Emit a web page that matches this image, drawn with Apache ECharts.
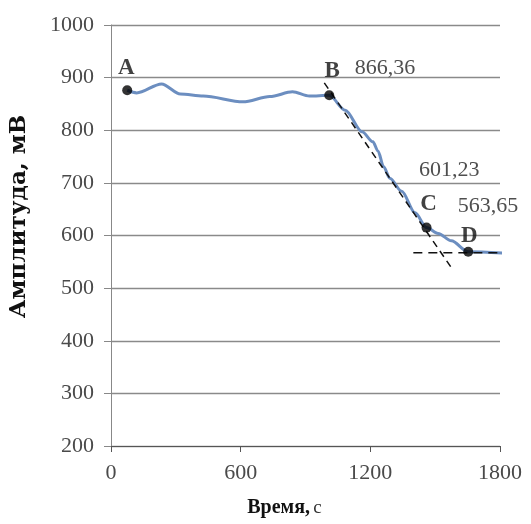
<!DOCTYPE html>
<html>
<head>
<meta charset="utf-8">
<script src="https://cdn.jsdelivr.net/npm/echarts@6/dist/echarts.min.js"></script>
<style>html,body{margin:0;padding:0;background:#fff}#c{width:531px;height:524px}</style>
</head>
<body>
<div id="c"></div>
<script>
// Curve samples
var timeS = [75, 119, 234, 321, 427, 611, 735, 840, 918, 1010, 1084, 1162, 1212, 1236, 1261, 1290, 1345, 1407, 1460, 1514, 1575, 1653, 1835];
var amp   = [876, 871, 888, 869, 865, 854, 864, 873, 865, 866.36, 838, 797, 778, 760, 731, 709, 684, 643, 615, 604, 590, 569, 566];
// Marked points
var pointNames = ['A', 'B', 'C', 'D'];
var pointTime  = [75, 1010, 1460, 1653];
var pointAmp   = [876, 866.36, 615, 569];
var pointValueText = ['', '866,36', '601,23', '563,65'];
// Tangent construction lines
var tangentT = [987, 1583];
var tangentA = [890, 534];
var levelT   = [1399, 1870];
var levelA   = [567, 567];
// Axes
var xMin = 0, xMax = 1800, xStep = 600;
var yMin = 200, yMax = 1000, yStep = 100;

function pairs(a, b) { return a.map(function (v, i) { return [v, b[i]]; }); }

var letterOffsets = [[-1, -22], [3, -24], [2, -24], [1, -16]];
var valueOffsets  = [[0, 0], [20, -27], [-13, -57], [-16, -46]];

var chart = echarts.init(document.getElementById('c'), null, { renderer: 'canvas' });
var serif = '"Liberation Serif", "Times New Roman", serif';
chart.setOption({
  animation: false,
  backgroundColor: '#fff',
  grid: { left: 107, right: 31, top: 25, bottom: 78 },
  xAxis: {
    type: 'value', min: xMin, max: xMax, interval: xStep,
    name: '{b|Время,} {r|с}',
    nameLocation: 'middle', nameGap: 52,
    nameTextStyle: {
      padding: [0, 42, 0, 0],
      rich: {
        b: { fontFamily: serif, fontWeight: 'bold', fontSize: 20, color: '#111' },
        r: { fontFamily: serif, fontSize: 19, color: '#333' }
      }
    },
    axisLine: { lineStyle: { color: '#555', width: 1.2 } },
    axisTick: { show: true, inside: false, length: 6, lineStyle: { color: '#555' } },
    axisLabel: { fontFamily: serif, fontSize: 22, color: '#4a4a4a', margin: 16, formatter: function (v) { return String(v); } },
    splitLine: { show: false }
  },
  yAxis: {
    type: 'value', min: yMin, max: yMax, interval: yStep,
    name: 'Амплитуда, мВ',
    nameLocation: 'middle', nameGap: 80, nameRotate: 90,
    nameTextStyle: { fontFamily: '"DejaVu Serif", serif', fontWeight: 'bold', fontSize: 23, color: '#111', padding: [0, 0, 0, 38] },
    axisLine: { show: true, lineStyle: { color: '#888', width: 1 } },
    axisTick: { show: true, length: 7, lineStyle: { color: '#888' } },
    axisLabel: { fontFamily: serif, fontSize: 22, color: '#4a4a4a', margin: 17, formatter: function (v) { return String(v); } },
    splitLine: { show: true, lineStyle: { color: '#8a8a8a', width: 1.3 } }
  },
  series: [
    {
      type: 'line', data: pairs(timeS, amp), smooth: 0.3, smoothMonotone: 'x', showSymbol: false, clip: false,
      lineStyle: { color: '#6c8ec0', width: 3 }, z: 3
    },
    {
      type: 'line', data: pairs(tangentT, tangentA), showSymbol: false, clip: false,
      lineStyle: { color: '#111', width: 1.5, type: [7, 5] }, z: 4
    },
    {
      type: 'line', data: pairs(levelT, levelA), showSymbol: false, clip: false,
      lineStyle: { color: '#111', width: 1.5, type: [9, 6] }, z: 4
    },
    {
      type: 'scatter', symbol: 'circle', symbolSize: 10, clip: false,
      itemStyle: { color: '#000' }, z: 5,
      data: pointNames.map(function (n, i) {
        return {
          value: [pointTime[i], pointAmp[i]],
          label: {
            show: true, formatter: n, position: 'inside', offset: letterOffsets[i],
            fontFamily: serif, fontWeight: 'bold', fontSize: 23, color: '#111'
          }
        };
      })
    },
    {
      type: 'scatter', symbolSize: 1, clip: false, silent: true,
      itemStyle: { color: 'rgba(0,0,0,0)' }, z: 5,
      data: pointNames.map(function (n, i) {
        return {
          value: [pointTime[i], pointAmp[i]],
          label: {
            show: pointValueText[i] !== '', formatter: pointValueText[i], position: 'right', offset: valueOffsets[i],
            fontFamily: serif, fontSize: 22, color: '#222'
          }
        };
      })
    }
  ]
});
</script>
</body>
</html>
